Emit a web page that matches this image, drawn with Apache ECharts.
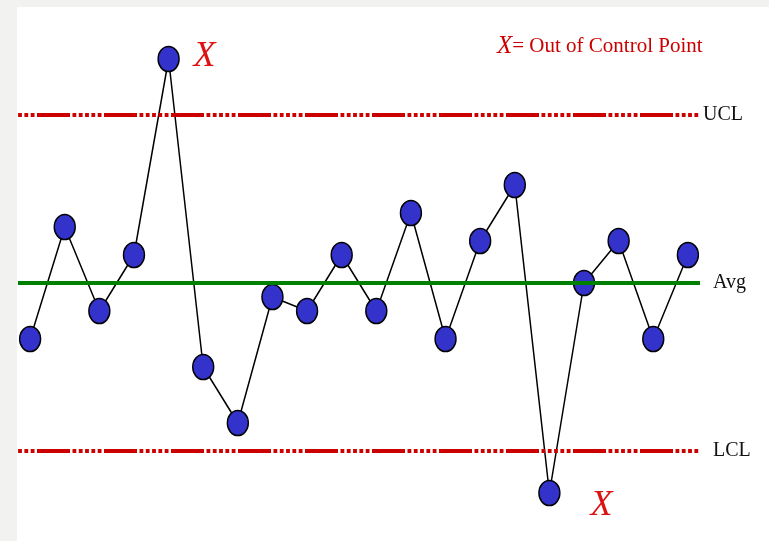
<!DOCTYPE html>
<html><head><meta charset="utf-8">
<script src="https://cdn.jsdelivr.net/npm/echarts@6/dist/echarts.min.js"></script>
<style>html,body{margin:0;padding:0;background:#f2f2f0;}#c{width:769px;height:541px;}</style>
</head><body><div id="c"></div>
<script>
// ---- data ----
const samples = [1,2,3,4,5,6,7,8,9,10,11,12,13,14,15,16,17,18,19,20];
const values = [40,60,45,55,90,35,25,47.5,45,55,45,62.5,40,57.5,67.5,12.5,50,57.5,40,55];
const limitNames = ['UCL','Avg','LCL'];
const limitValues = [80,50,20];
const outOfControl = [5,16];
const outMark = 'X';
const legendText = '= Out of Control Point';

// ---- styles ----
const red = '#cc0000';
const dashPattern = [33,2.5,3.8,2.5,3.8,2.5,3.8,2.5,3.8,2.5,3.8,2.5];
const limitStyles = {
  UCL: {color: red, width: 4, type: dashPattern, dashOffset: 48},
  Avg: {color: '#008000', width: 4, type: 'solid'},
  LCL: {color: red, width: 4, type: dashPattern, dashOffset: 48}
};
const limitLabelDist = {UCL: 3, Avg: 13, LCL: 13};
const markOffsets = {5: [36, -2], 16: [52, 13]};

const chart = echarts.init(document.getElementById('c'), null, {renderer: 'canvas'});

const seriesData = samples.map((s, i) => {
  const item = {value: [s, values[i]]};
  if (outOfControl.includes(s)) {
    item.label = {
      show: true, formatter: outMark, position: 'inside', offset: markOffsets[s],
      fontFamily: 'Liberation Serif', fontStyle: 'italic', fontWeight: 'normal', fontSize: 36, color: '#dd1111'
    };
  }
  return item;
});

const markData = limitNames.map((n, i) => ({
  yAxis: limitValues[i],
  lineStyle: limitStyles[n],
  label: {show: true, position: 'end', formatter: n, distance: limitLabelDist[n],
          fontFamily: 'Liberation Serif', fontSize: 20, color: '#111'}
}));

chart.setOption({
  backgroundColor: '#f2f2f0',
  animation: false,
  graphic: [{type: 'rect', shape: {x: 17, y: 7, width: 760, height: 540}, style: {fill: '#ffffff'}, z: -10, silent: true}],
  title: {
    text: '{x|' + outMark + '}{t|' + legendText + '}',
    left: 492, top: 29,
    textStyle: {
      fontWeight: 'normal',
      rich: {
        x: {fontFamily: 'Liberation Serif', fontStyle: 'italic', fontWeight: 'normal', fontSize: 25, color: red},
        t: {fontFamily: 'Liberation Serif', fontWeight: 'normal', fontSize: 21, color: red}
      }
    }
  },
  grid: {left: 18, right: 69, top: 3, bottom: 6},
  xAxis: {type: 'value', min: 0.65, max: 20.35, show: false},
  yAxis: {type: 'value', min: 5, max: 100, show: false},
  series: [
    {
      type: 'line', data: [], z: 1, silent: true,
      markLine: {symbol: ['none','none'], silent: true, animation: false, data: markData}
    },
    {
      type: 'line', z: 3, data: seriesData,
      symbol: 'circle', symbolSize: [21, 25],
      itemStyle: {color: '#3333cc', borderColor: '#000', borderWidth: 1.5},
      lineStyle: {color: '#000', width: 1.5},
      label: {show: false}
    }
  ]
});
</script></body></html>
